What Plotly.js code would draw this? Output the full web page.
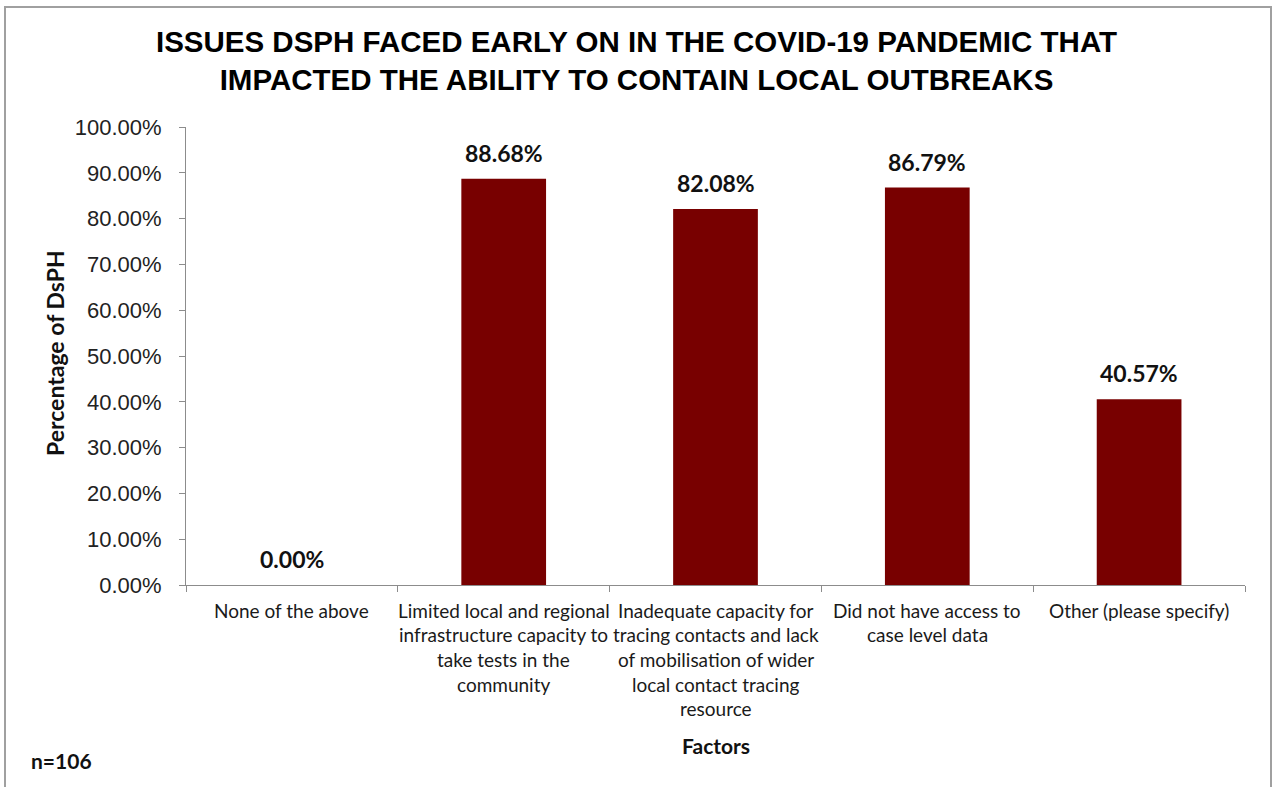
<!DOCTYPE html>
<html>
<head>
<meta charset="utf-8">
<script src="https://cdn.plot.ly/plotly-3.0.1.min.js"></script>
<style>
  html, body { margin: 0; padding: 0; background: #ffffff; }
  #chart { width: 1273px; height: 787px; }
</style>
</head>
<body>
<div id="chart"></div>
<script>
// Survey responses: issues faced early in the pandemic (n=106)
const categoryLines = [
  ['None of the above'],
  ['Limited local and regional', 'infrastructure capacity to', 'take tests in the', 'community'],
  ['Inadequate capacity for', 'tracing contacts and lack', 'of mobilisation of wider', 'local contact tracing', 'resource'],
  ['Did not have access to', 'case level data'],
  ['Other (please specify)']
];
const categories = categoryLines.map(lines => lines.join(' '));
const percentages = [0.00, 88.68, 82.08, 86.79, 40.57];
const yTicks = [0, 10, 20, 30, 40, 50, 60, 70, 80, 90, 100];

const titleText = 'ISSUES DSPH FACED EARLY ON IN THE COVID-19 PANDEMIC THAT<br>IMPACTED THE ABILITY TO CONTAIN LOCAL OUTBREAKS';
const sampleNote = 'n=106';

// Figure geometry (pixels)
const W = 1273, H = 787;
const M = { l: 186, r: 28, t: 127, b: 202 };
const plotW = W - M.l - M.r;
const plotH = H - M.t - M.b;
const px2x = px => (px - M.l) / plotW;
const py2y = py => (H - M.b - py) / plotH;

const labelFont = 'Lato, "Open Sans", "DejaVu Sans", sans-serif';
const barColor = '#780000';
const axisColor = '#8c8c8c';

const trace = {
  type: 'bar',
  x: categories,
  y: percentages,
  width: 0.4,
  marker: { color: barColor, line: { width: 0 } },
  hoverinfo: 'skip'
};

// Value labels above each bar
const valueLabels = categories.map((c, i) => ({
  x: c, y: percentages[i], xref: 'x', yref: 'y',
  text: percentages[i].toFixed(2) + '%',
  showarrow: false, yanchor: 'bottom', yshift: 10,
  font: { family: labelFont, size: 23, color: '#111111', weight: 'bold' }
}));

// Category labels, one annotation per line for tighter control of line spacing
const lineGap = 24.7;
const categoryLabels = [];
categoryLines.forEach((lines, i) => {
  lines.forEach((line, j) => {
    categoryLabels.push({
      x: categories[i], xref: 'x', yref: 'paper',
      y: py2y(610 + j * lineGap),
      text: line, showarrow: false, yanchor: 'middle',
      font: { family: labelFont, size: 19, color: '#1a1a1a' }
    });
  });
});

const otherText = [
  {
    xref: 'paper', yref: 'paper', x: px2x(55), y: py2y(353),
    xanchor: 'center', yanchor: 'middle',
    text: 'Percentage of DsPH', textangle: -90, showarrow: false,
    font: { family: labelFont, size: 23, color: '#111111', weight: 'bold' }
  },
  {
    xref: 'paper', yref: 'paper', x: 0.5, y: py2y(745),
    text: 'Factors', showarrow: false, yanchor: 'middle',
    font: { family: labelFont, size: 21, color: '#111111', weight: 'bold' }
  },
  {
    xref: 'paper', yref: 'paper', x: px2x(29), y: py2y(760),
    text: sampleNote, showarrow: false, xanchor: 'left', yanchor: 'middle',
    font: { family: labelFont, size: 21, color: '#111111', weight: 'bold' }
  }
];

const layout = {
  width: W, height: H,
  margin: M,
  paper_bgcolor: '#ffffff',
  plot_bgcolor: '#ffffff',
  showlegend: false,
  title: {
    text: titleText,
    x: 0.5, xanchor: 'center',
    y: 1 - 52 / H, yanchor: 'top',
    font: { family: 'Liberation Sans, Arial, sans-serif', size: 29.5, color: '#000000', weight: 'bold' }
  },
  xaxis: {
    type: 'category',
    range: [-0.5, categories.length - 0.5],
    showticklabels: false,
    showline: true, linecolor: axisColor, linewidth: 1,
    ticks: 'outside', tickson: 'boundaries', ticklen: 6, tickcolor: axisColor,
    showgrid: false, zeroline: false, fixedrange: true
  },
  yaxis: {
    range: [0, 100],
    tickvals: yTicks,
    ticktext: yTicks.map(v => v.toFixed(2) + '%'),
    showline: true, linecolor: axisColor, linewidth: 1,
    ticks: 'outside', ticklen: 6, tickcolor: axisColor,
    ticklabelstandoff: 13,
    tickfont: { family: 'Liberation Sans, Arial, sans-serif', size: 22, color: '#222222' },
    showgrid: false, zeroline: false, fixedrange: true
  },
  annotations: valueLabels.concat(categoryLabels, otherText),
  shapes: [
    {
      type: 'rect', xref: 'paper', yref: 'paper',
      x0: px2x(5), x1: px2x(1271), y0: py2y(7), y1: py2y(800),
      line: { color: '#a0a0a0', width: 2 }, fillcolor: 'rgba(0,0,0,0)'
    }
  ]
};

Plotly.newPlot('chart', [trace], layout, { displayModeBar: false, staticPlot: true });
</script>
</body>
</html>
